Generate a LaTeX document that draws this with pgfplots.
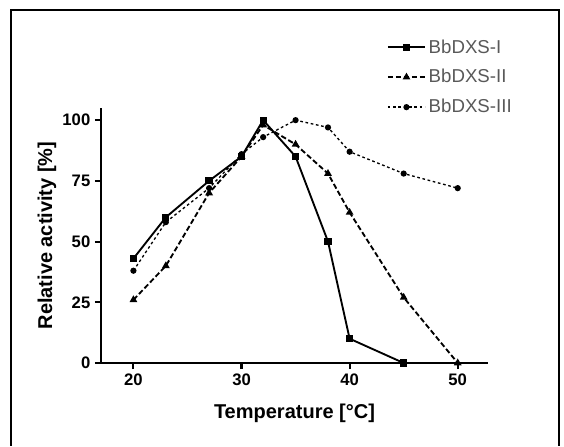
\documentclass[border=0pt]{standalone}
\usepackage{pgfplots}
\pgfplotsset{compat=1.18}
\usepackage{fontspec}
\setmainfont{Liberation Sans}
\begin{document}
\begin{tikzpicture}
\begin{axis}[
  at={(0,0)}, anchor=south west,
  scale only axis, width=290.25pt, height=191.25pt,
  xmin=17, xmax=52.8, ymin=0, ymax=105,
  axis lines=left, axis line style={line width=2pt, -},
  every tick/.style={line width=1.6pt, black},
  tick align=outside, major tick length=4.5pt,
  xtick={20,30,40,50}, ytick={0,25,50,75,100},
  tick label style={font=\bfseries\fontsize{12.5}{13}\selectfont},
  /pgf/number format/assume math mode=true,
  xlabel={\bfseries Temperature [°C]},
  ylabel={\bfseries Relative activity [\%]},
  every axis x label/.style={at={(rel axis cs:0.5,0)}, anchor=center, yshift=-38pt, font=\bfseries\fontsize{15}{16}\selectfont},
  every axis y label/.style={at={(rel axis cs:0,0.5)}, rotate=90, anchor=center, yshift=40.5pt, font=\bfseries\fontsize{15}{16}\selectfont},
  legend style={at={(rel axis cs:0.738,1.28)}, anchor=north west, draw=none, fill=none,
    inner sep=0pt,
    font=\fontsize{14}{15}\selectfont\color{black!65}, row sep=6.8pt},
  legend cell align=left,
  legend image code/.code={\draw[mark repeat=2,mark phase=2,#1] plot coordinates {(0pt,0pt) (14pt,0pt) (28pt,0pt)};},
  clip=false,
]
\addplot[black, line width=1.4pt, mark=square*, mark size=2pt] coordinates {
 (20,43) (23,60) (27,75) (30,85) (32,100) (35,85) (38,50) (40,10) (45,0)};
\addlegendentry{BbDXS-I}
\addplot[black, line width=1.4pt, dash pattern=on 4pt off 2pt, mark=triangle*, mark size=2pt, mark options={solid}] coordinates {
 (20,26) (23,40) (27,70) (30,85) (32,98) (35,90) (38,78) (40,62) (45,27) (50,0)};
\addlegendentry{BbDXS-II}
\addplot[black, line width=1pt, dash pattern=on 2pt off 2pt, mark=*, mark size=1.8pt, mark options={solid}] coordinates {
 (20,38) (23,58) (27,72) (30,86) (32,93) (35,100) (38,97) (40,87) (45,78) (50,72)};
\addlegendentry{BbDXS-III}
\end{axis}
\draw[line width=0.8pt] (-67.5pt,-62pt) -- (-67.5pt,264.75pt) -- (343.5pt,264.75pt) -- (343.5pt,-62pt);
\path[use as bounding box] (-75.75pt,-58.5pt) rectangle (347.25pt,272.25pt);
\end{tikzpicture}
\end{document}
